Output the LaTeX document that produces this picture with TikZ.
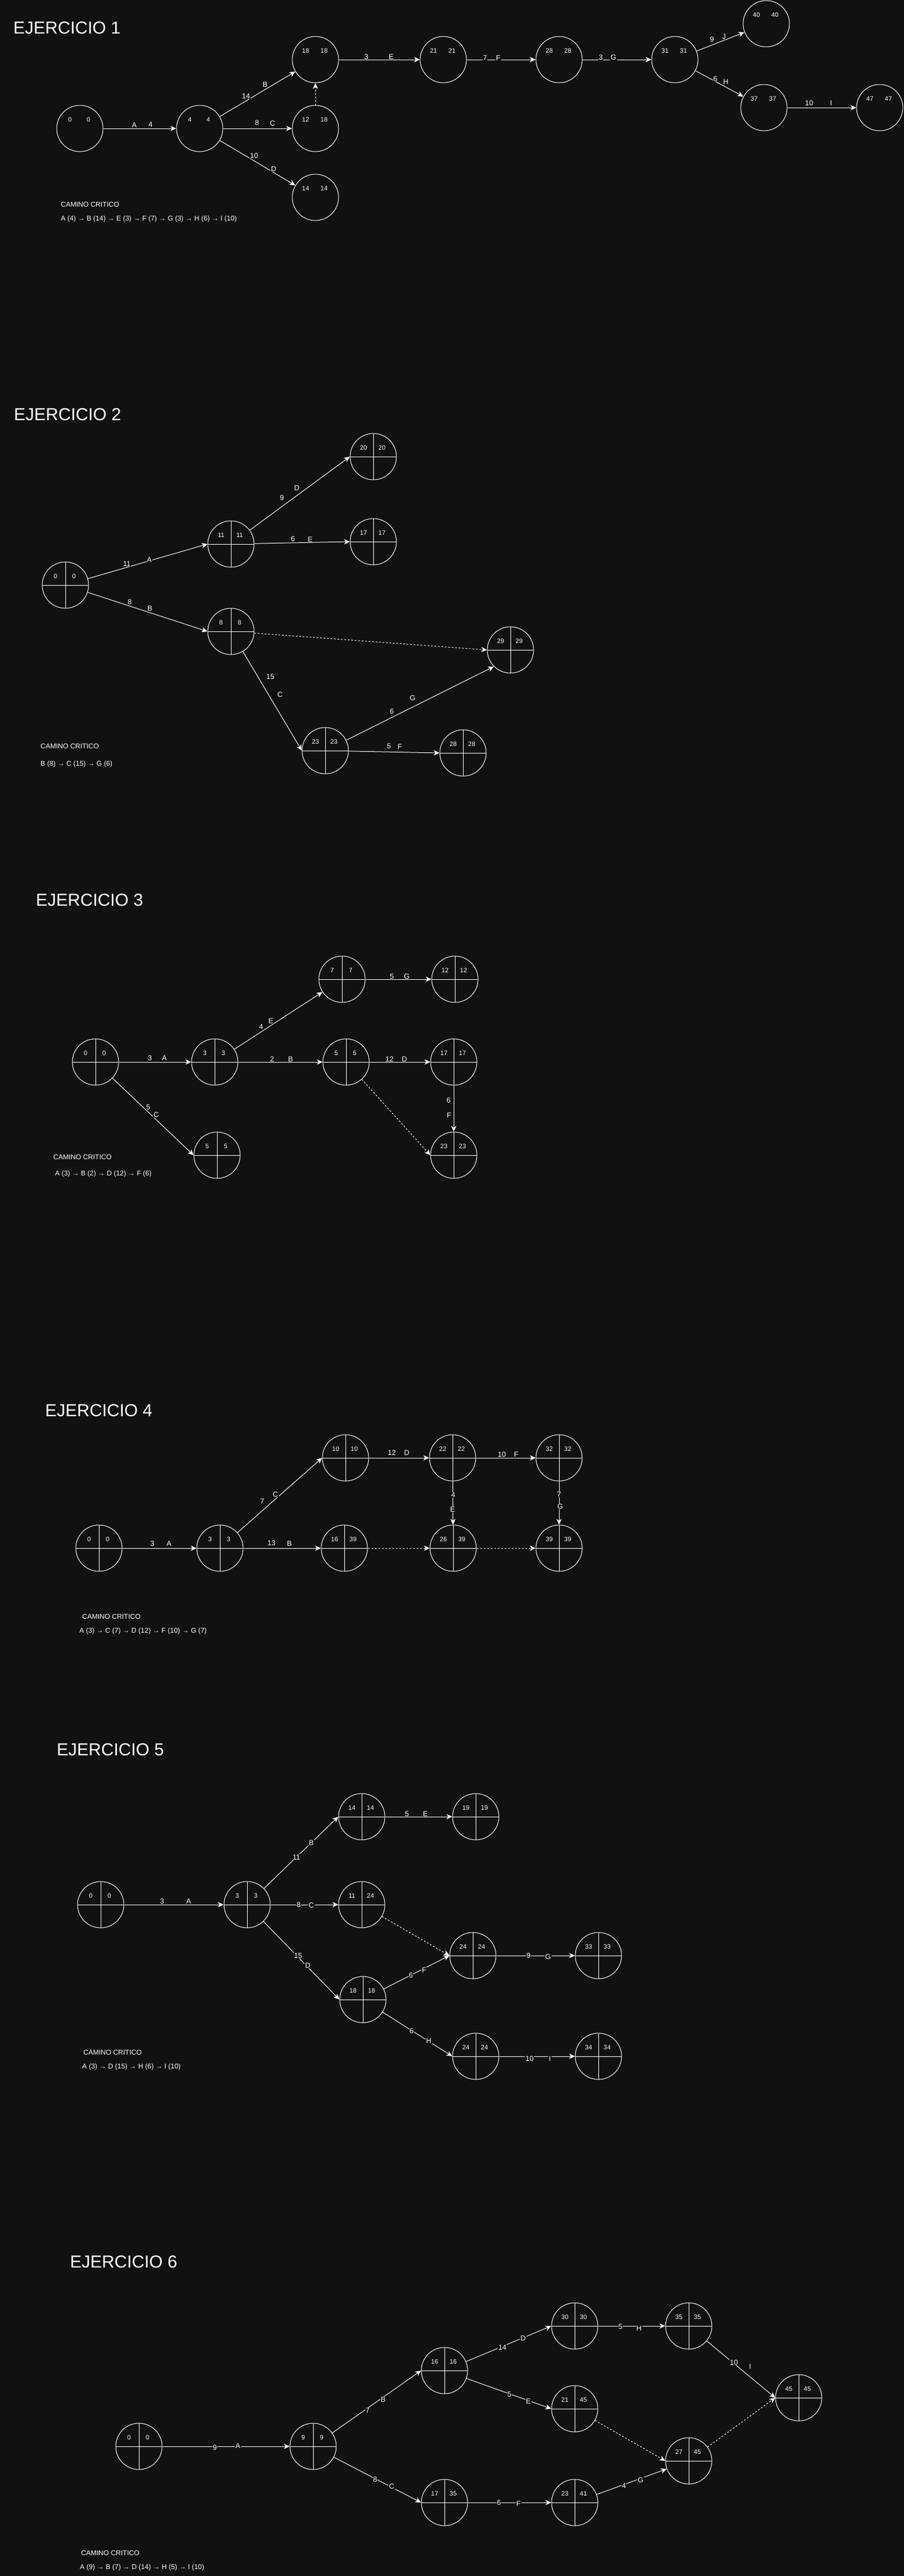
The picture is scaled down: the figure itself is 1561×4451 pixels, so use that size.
\documentclass[tikz,border=0pt]{standalone}
\usepackage{fontspec}
\setmainfont{Liberation Sans}
\usetikzlibrary{arrows.meta,calc}
\definecolor{fondo}{RGB}{17,17,17}

% evento: circle node with the two times in its upper half
\newcommand{\evento}[5][evq]{%
  \node[#1] (#2) at (#3) {};
  \node[num] (#2a) at ($(#2)+(-17,-15)$) {#4};
  \node[num] (#2b) at ($(#2)+(15,-15)$) {#5};}

\begin{document}
\begin{tikzpicture}[x=1pt, y=-1pt,
    evs/.style={circle, draw=white, line width=1pt, minimum size=80pt, inner sep=0pt},
    evq/.style={evs, path picture={\draw[white, line width=1pt]
        (path picture bounding box.west) -- (path picture bounding box.east)
        (path picture bounding box.north) -- (path picture bounding box.south);}},
    num/.style={text=white, inner sep=0pt, font=\fontsize{11}{13}\selectfont},
    act/.style={draw=white, line width=1pt, -{Stealth[length=10pt,width=9pt,inset=3pt]}},
    ficticia/.style={act, dash pattern=on 3pt off 3pt},
    lbl/.style={fill=fondo, text=white, inner sep=1pt, font=\fontsize{12.5}{15}\selectfont},
    titulo/.style={anchor=west, text=white, inner sep=0pt, font=\fontsize{30}{36}\selectfont},
    nota/.style={anchor=west, text=white, inner sep=0pt, font=\fontsize{12}{14}\selectfont}]

  \useasboundingbox (0,0) rectangle (1561,4451);
  \fill[fondo] (-2,-2) rectangle (1563,4453);

  % EJERCICIO 1
  \node[titulo] (t1) at (23,48) {EJERCICIO 1};
  \evento[evs]{e1n0}{138,222}{0}{0}
  \evento[evs]{e1n4}{345,222}{4}{4}
  \evento[evs]{e1n18}{545,103}{18}{18}
  \evento[evs]{e1n12}{545,222}{12}{18}
  \evento[evs]{e1n14}{545,341}{14}{14}
  \evento[evs]{e1n21}{766,103}{21}{21}
  \evento[evs]{e1n28}{966,103}{28}{28}
  \evento[evs]{e1n31}{1166,103}{31}{31}
  \evento[evs]{e1n40}{1324,41}{40}{40}
  \evento[evs]{e1n37}{1320,186}{37}{37}
  \evento[evs]{e1n47}{1520,186}{47}{47}
  \draw[act] (e1n0) -- (e1n4);
  \draw[act] (e1n4) -- (e1n18);
  \draw[act] (e1n4) -- (e1n12);
  \draw[act] (e1n4) -- (e1n14);
  \draw[ficticia] (e1n12.north) -- (e1n18.south);
  \draw[act] (e1n18) -- (e1n21);
  \draw[act] (e1n21) -- (e1n28);
  \draw[act] (e1n28) -- (e1n31);
  \draw[act] (e1n31) -- (e1n40);
  \draw[act] (e1n31) -- (e1n37);
  \draw[act] (e1n37) -- (e1n47);
  \node[lbl] (l1a) at (232,216) {A};
  \node[lbl] (l1a2) at (260,215) {4};
  \node[lbl] (l1b) at (425,166) {14};
  \node[lbl] (l1b2) at (458,146) {B};
  \node[lbl] (l1c) at (444,212) {8};
  \node[lbl] (l1c2) at (471,213) {C};
  \node[lbl] (l1d) at (439,269) {10};
  \node[lbl] (l1d2) at (473,292) {D};
  \node[lbl] (l1e) at (633,98) {3};
  \node[lbl] (l1e2) at (676,98) {E};
  \node[lbl] (l1f) at (838,100) {7};
  \node[lbl] (l1f2) at (861,100) {F};
  \node[lbl] (l1g) at (1038,99) {3};
  \node[lbl] (l1g2) at (1060,99) {G};
  \node[lbl] (l1j) at (1230,68) {9};
  \node[lbl] (l1j2) at (1251,63) {J};
  \node[lbl] (l1h) at (1236,136) {6};
  \node[lbl] (l1h2) at (1254,141) {H};
  \node[lbl] (l1i) at (1398,178) {10};
  \node[lbl] (l1i2) at (1436,178) {I};
  \node[nota] (c1) at (105,353) {CAMINO CRITICO};
  \node[nota] (r1) at (105,378) {A (4) → B (14) → E (3) → F (7) → G (3) → H (6) → I (10)};

  % EJERCICIO 2
  \node[titulo] (t2) at (24,716) {EJERCICIO 2};
  \evento{e2n0}{113,1011}{0}{0}
  \evento{e2n11}{399,940}{11}{11}
  \evento{e2n8}{399,1091}{8}{8}
  \evento{e2n20}{645,789}{20}{20}
  \evento{e2n17}{645,936}{17}{17}
  \evento{e2n29}{882,1123}{29}{29}
  \evento{e2n23}{562,1297}{23}{23}
  \evento{e2n28}{800,1301}{28}{28}
  \draw[act] (e2n0) -- (e2n11.west);
  \draw[act] (e2n0) -- (e2n8.west);
  \draw[act] (e2n11) -- (e2n20.west);
  \draw[act] (e2n11) -- (e2n17.west);
  \draw[ficticia] (e2n8) -- (e2n29.west);
  \draw[act] (e2n8) -- (e2n23.west);
  \draw[act] (e2n23) -- (e2n29.south west);
  \draw[act] (e2n23) -- (e2n28.west);
  \node[lbl] (l2a) at (219,974) {11};
  \node[lbl] (l2a2) at (258,967) {A};
  \node[lbl] (l2b) at (224,1040) {8};
  \node[lbl] (l2b2) at (259,1051) {B};
  \node[lbl] (l2d) at (487,860) {9};
  \node[lbl] (l2d2) at (513,843) {D};
  \node[lbl] (l2e) at (506,931) {6};
  \node[lbl] (l2e2) at (536,932) {E};
  \node[lbl] (l2c) at (467,1169) {15};
  \node[lbl] (l2c2) at (484,1200) {C};
  \node[lbl] (l2g) at (677,1229) {6};
  \node[lbl] (l2g2) at (713,1206) {G};
  \node[lbl] (l2f) at (672,1289) {5};
  \node[lbl] (l2f2) at (691,1290) {F};
  \node[nota] (c2) at (70,1289) {CAMINO CRITICO};
  \node[nota] (r2) at (70,1320) {B (8) → C (15) → G (6)};

  % EJERCICIO 3
  \node[titulo] (t3) at (62,1555) {EJERCICIO 3};
  \evento{e3n0}{165,1835}{0}{0}
  \evento{e3n3}{371,1835}{3}{3}
  \evento{e3n7}{591,1692}{7}{7}
  \evento{e3n12}{786,1692}{12}{12}
  \evento{e3n5}{598,1835}{5}{5}
  \evento{e3n17}{784,1835}{17}{17}
  \evento{e3n5b}{375,1996}{5}{5}
  \evento{e3n23}{784,1996}{23}{23}
  \draw[act] (e3n0) -- (e3n3.west);
  \draw[act] (e3n3) -- (e3n7);
  \draw[act] (e3n3) -- (e3n5.west);
  \draw[act] (e3n7) -- (e3n12.west);
  \draw[act] (e3n5) -- (e3n17.west);
  \draw[act] (e3n17) -- (e3n23);
  \draw[act] (e3n0) -- (e3n5b.west);
  \draw[ficticia] (e3n5) -- (e3n23.west);
  \node[lbl] (l3a) at (259,1828) {3};
  \node[lbl] (l3a2) at (284,1828) {A};
  \node[lbl] (l3e) at (451,1774) {4};
  \node[lbl] (l3e2) at (468,1764) {E};
  \node[lbl] (l3b) at (470,1830) {2};
  \node[lbl] (l3b2) at (502,1830) {B};
  \node[lbl] (l3g) at (677,1687) {5};
  \node[lbl] (l3g2) at (703,1687) {G};
  \node[lbl] (l3d) at (673,1830) {12};
  \node[lbl] (l3d2) at (699,1830) {D};
  \node[lbl] (l3f) at (775,1901) {6};
  \node[lbl] (l3f2) at (776,1927) {F};
  \node[lbl] (l3c) at (256,1913) {5};
  \node[lbl] (l3c2) at (270,1926) {C};
  \node[nota] (c3) at (92,1999) {CAMINO CRITICO};
  \node[nota] (r3) at (95,2028) {A (3) → B (2) → D (12) → F (6)};

  % EJERCICIO 4
  \node[titulo] (t4) at (78,2437) {EJERCICIO 4};
  \evento{e4n0}{171,2675}{0}{0}
  \evento{e4n3}{380,2675}{3}{3}
  \evento{e4n16}{595,2675}{16}{39}
  \evento{e4n10}{597,2519}{10}{10}
  \evento{e4n22}{782,2519}{22}{22}
  \evento{e4n32}{966,2519}{32}{32}
  \evento{e4n26}{783,2675}{26}{39}
  \evento{e4n39}{966,2675}{39}{39}
  \draw[act] (e4n0) -- (e4n3.west);
  \draw[act] (e4n3) -- (e4n10.west);
  \draw[act] (e4n3) -- (e4n16.west);
  \draw[act] (e4n10) -- (e4n22.west);
  \draw[act] (e4n22) -- (e4n32.west);
  \draw[act] (e4n22) -- (e4n26);
  \draw[act] (e4n32) -- (e4n39);
  \draw[ficticia] (e4n16) -- (e4n26.west);
  \draw[ficticia] (e4n26) -- (e4n39.west);
  \node[lbl] (l4a) at (263,2667) {3};
  \node[lbl] (l4a2) at (292,2667) {A};
  \node[lbl] (l4c) at (453,2594) {7};
  \node[lbl] (l4c2) at (476,2582) {C};
  \node[lbl] (l4b) at (469,2666) {13};
  \node[lbl] (l4b2) at (500,2667) {B};
  \node[lbl] (l4d) at (677,2510) {12};
  \node[lbl] (l4d2) at (703,2510) {D};
  \node[lbl] (l4f) at (867,2513) {10};
  \node[lbl] (l4f2) at (892,2513) {F};
  \node[lbl] (l4e) at (783,2583) {4};
  \node[lbl] (l4e2) at (782,2608) {E};
  \node[lbl] (l4g) at (966,2582) {7};
  \node[lbl] (l4g2) at (968,2603) {G};
  \node[nota] (c4) at (142,2793) {CAMINO CRITICO};
  \node[nota] (r4) at (137,2818) {A (3) → C (7) → D (12) → F (10) → G (7)};

  % EJERCICIO 5
  \node[titulo] (t5) at (98,3023) {EJERCICIO 5};
  \evento{e5n0}{174,3291}{0}{0}
  \evento{e5n3}{427,3291}{3}{3}
  \evento{e5n14}{625,3139}{14}{14}
  \evento{e5n19}{822,3139}{19}{19}
  \evento{e5n11}{625,3291}{11}{24}
  \evento{e5n24a}{817,3379}{24}{24}
  \evento{e5n33}{1034,3379}{33}{33}
  \evento{e5n18}{627,3455}{18}{18}
  \evento{e5n24b}{822,3553}{24}{24}
  \evento{e5n34}{1034,3553}{34}{34}
  \draw[act] (e5n0) -- (e5n3.west);
  \draw[act] (e5n3) -- (e5n14.west);
  \draw[act] (e5n3) -- (e5n11.west);
  \draw[act] (e5n3) -- (e5n18.west);
  \draw[act] (e5n14) -- (e5n19.west);
  \draw[ficticia] (e5n11) -- (e5n24a.west);
  \draw[act] (e5n18) -- (e5n24a.west);
  \draw[act] (e5n24a) -- (e5n33.west);
  \draw[act] (e5n18) -- (e5n24b.west);
  \draw[act] (e5n24b) -- (e5n34.west);
  \node[lbl] (l5a) at (280,3285) {3};
  \node[lbl] (l5a2) at (326,3285) {A};
  \node[lbl] (l5b) at (512,3209) {11};
  \node[lbl] (l5b2) at (538,3184) {B};
  \node[lbl] (l5c) at (516,3291) {8};
  \node[lbl] (l5c2) at (538,3292) {C};
  \node[lbl] (l5d) at (515,3379) {15};
  \node[lbl] (l5d2) at (532,3396) {D};
  \node[lbl] (l5e) at (703,3134) {5};
  \node[lbl] (l5e2) at (735,3134) {E};
  \node[lbl] (l5f) at (710,3413) {6};
  \node[lbl] (l5f2) at (733,3404) {F};
  \node[lbl] (l5g) at (913,3379) {9};
  \node[lbl] (l5g2) at (947,3381) {G};
  \node[lbl] (l5h) at (711,3509) {6};
  \node[lbl] (l5h2) at (741,3526) {H};
  \node[lbl] (l5i) at (915,3557) {10};
  \node[lbl] (l5i2) at (950,3557) {I};
  \node[nota] (c5) at (144,3546) {CAMINO CRITICO};
  \node[nota] (r5) at (142,3571) {A (3) → D (15) → H (6) → I (10)};

  % EJERCICIO 6
  \node[titulo] (t6) at (121,3908) {EJERCICIO 6};
  \evento{e6n0}{240,4227}{0}{0}
  \evento{e6n9}{541,4227}{9}{9}
  \evento{e6n16}{768,4096}{16}{16}
  \evento{e6n17}{768,4324}{17}{35}
  \evento{e6n30}{993,4019}{30}{30}
  \evento{e6n21}{993,4162}{21}{45}
  \evento{e6n23}{993,4324}{23}{41}
  \evento{e6n35}{1190,4019}{35}{35}
  \evento{e6n27}{1190,4252}{27}{45}
  \evento{e6n45}{1380,4143}{45}{45}
  \draw[act] (e6n0) -- (e6n9.west);
  \draw[act] (e6n9) -- (e6n16.west);
  \draw[act] (e6n9) -- (e6n17.west);
  \draw[act] (e6n16) -- (e6n30.west);
  \draw[act] (e6n16) -- (e6n21.west);
  \draw[act] (e6n17) -- (e6n23.west);
  \draw[act] (e6n30) -- (e6n35.west);
  \draw[act] (e6n23) -- (e6n27);
  \draw[act] (e6n35) -- (e6n45.west);
  \draw[ficticia] (e6n21) -- (e6n27.west);
  \draw[ficticia] (e6n27) -- (e6n45.west);
  \node[lbl] (l6a) at (371,4229) {9};
  \node[lbl] (l6a2) at (411,4226) {A};
  \node[lbl] (l6b) at (635,4165) {7};
  \node[lbl] (l6b2) at (662,4146) {B};
  \node[lbl] (l6c) at (648,4284) {8};
  \node[lbl] (l6c2) at (677,4296) {C};
  \node[lbl] (l6d) at (868,4056) {14};
  \node[lbl] (l6d2) at (904,4040) {D};
  \node[lbl] (l6e) at (880,4137) {5};
  \node[lbl] (l6e2) at (913,4149) {E};
  \node[lbl] (l6f) at (862,4324) {6};
  \node[lbl] (l6f2) at (896,4326) {F};
  \node[lbl] (l6h) at (1072,4020) {5};
  \node[lbl] (l6h2) at (1104,4023) {H};
  \node[lbl] (l6g) at (1078,4295) {4};
  \node[lbl] (l6g2) at (1107,4285) {G};
  \node[lbl] (l6i) at (1268,4082) {10};
  \node[lbl] (l6i2) at (1296,4089) {I};
  \node[nota] (c6) at (140,4411) {CAMINO CRITICO};
  \node[nota] (r6) at (138,4436) {A (9) → B (7) → D (14) → H (5) → I (10)};
\end{tikzpicture}
\end{document}
